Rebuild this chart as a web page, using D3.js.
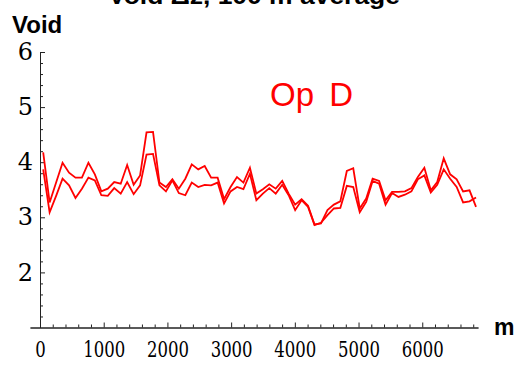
<!DOCTYPE html>
<html>
<head>
<meta charset="utf-8">
<script src="https://cdn.jsdelivr.net/npm/d3@7"></script>
<style>
  body { margin: 0; background: #fff; }
  svg { display: block; }
  .axis text { fill: #000; }
</style>
</head>
<body>
<div id="chart"></div>
<script>
// distance along the line (m), one point per ~100 m window
const distances = [50, 151, 253, 354, 456, 557, 658, 760, 861, 963,
  1064, 1165, 1267, 1368, 1470, 1571, 1672, 1774, 1875, 1977,
  2078, 2179, 2281, 2382, 2484, 2585, 2686, 2788, 2889, 2991,
  3092, 3193, 3295, 3396, 3498, 3599, 3700, 3802, 3903, 4005,
  4106, 4207, 4309, 4410, 4512, 4613, 4714, 4816, 4917, 5019,
  5120, 5221, 5323, 5424, 5526, 5627, 5728, 5830, 5931, 6033,
  6134, 6235, 6337, 6438, 6540, 6641, 6742, 6844];

// first averaged void curve
const voidA = [4.18, 3.27, 3.63, 3.99, 3.81, 3.72, 3.72, 3.99, 3.78, 3.47,
  3.52, 3.64, 3.61, 3.95, 3.59, 3.76, 4.54, 4.55, 3.63, 3.55,
  3.69, 3.52, 3.70, 3.96, 3.87, 3.93, 3.72, 3.72, 3.33, 3.55,
  3.73, 3.63, 3.90, 3.43, 3.51, 3.60, 3.52, 3.66, 3.43, 3.23,
  3.33, 3.21, 2.87, 2.89, 3.13, 3.23, 3.29, 3.84, 3.89, 3.16,
  3.34, 3.70, 3.66, 3.31, 3.46, 3.46, 3.47, 3.53, 3.73, 3.90,
  3.49, 3.64, 4.07, 3.78, 3.69, 3.47, 3.49, 3.19];

// second averaged void curve
const voidB = [3.87, 3.09, 3.39, 3.70, 3.58, 3.35, 3.52, 3.72, 3.67, 3.40,
  3.39, 3.53, 3.43, 3.64, 3.42, 3.58, 4.14, 4.15, 3.58, 3.47,
  3.67, 3.44, 3.40, 3.63, 3.55, 3.59, 3.58, 3.63, 3.25, 3.47,
  3.55, 3.51, 3.79, 3.31, 3.43, 3.53, 3.43, 3.59, 3.40, 3.13,
  3.31, 3.19, 2.86, 2.90, 3.04, 3.16, 3.17, 3.57, 3.55, 3.09,
  3.28, 3.66, 3.61, 3.23, 3.44, 3.37, 3.41, 3.47, 3.69, 3.76,
  3.45, 3.59, 3.87, 3.70, 3.55, 3.27, 3.29, 3.36];

const xTickValues = [0, 1000, 2000, 3000, 4000, 5000, 6000];
const yTickValues = [2, 3, 4, 5, 6];

const width = 528, height = 371;
const serif = '"DejaVu Serif", "Liberation Serif", "Noto Serif", serif';

const svg = d3.select('#chart').append('svg')
  .attr('width', width)
  .attr('height', height);

// scales: axes cross at (0, 1) like the original plot
const x = d3.scaleLinear().domain([-157, 6875]).range([30, 478]);
const y = d3.scaleLinear().domain([1, 6]).range([327.5, 52]);

// title, mostly cut off by the top edge (as in the original)
svg.append('text')
  .attr('x', 108)
  .attr('y', 4)
  .attr('textLength', 292)
  .attr('lengthAdjust', 'spacingAndGlyphs')
  .attr('font-family', 'Liberation Sans')
  .attr('font-weight', 'bold')
  .attr('font-size', 24)
  .text('Void \u0394z, 100 m average');

// x axis
const xMinor = d3.range(200, 6875, 200).filter(v => v % 1000 !== 0);
svg.append('g')
  .attr('transform', `translate(0,${y(1)})`)
  .call(d3.axisBottom(x).tickValues(xMinor).tickFormat('').tickSizeInner(-3).tickSizeOuter(0));

const xAxis = svg.append('g')
  .attr('class', 'x axis')
  .attr('transform', `translate(0,${y(1)})`)
  .call(d3.axisBottom(x).tickValues(xTickValues).tickFormat(d3.format('d'))
    .tickSizeInner(-5).tickSizeOuter(0).tickPadding(14));
xAxis.selectAll('text')
  .attr('font-family', serif)
  .attr('font-size', 22)
  .attr('textLength', d => String(d).length * 10.5)
  .attr('lengthAdjust', 'spacingAndGlyphs');

// y axis
const yMinor = d3.range(1.2, 6, 0.2).filter(v => Math.abs(v - Math.round(v)) > 0.01);
svg.append('g')
  .attr('transform', `translate(${x(0)},0)`)
  .call(d3.axisLeft(y).tickValues(yMinor).tickFormat('').tickSizeInner(-3).tickSizeOuter(0));

const yAxis = svg.append('g')
  .attr('class', 'y axis')
  .attr('transform', `translate(${x(0)},0)`)
  .call(d3.axisLeft(y).tickValues(yTickValues).tickFormat(d3.format('d'))
    .tickSizeInner(-5).tickSizeOuter(0).tickPadding(7));
yAxis.selectAll('text')
  .attr('font-family', serif)
  .attr('font-size', 24);

svg.selectAll('.domain, .tick line').attr('stroke', '#222');

// axis names
svg.append('text')
  .attr('x', 12)
  .attr('y', 33)
  .attr('font-family', 'Liberation Sans')
  .attr('font-weight', 'bold')
  .attr('font-size', 24)
  .text('Void');

svg.append('text')
  .attr('x', 494)
  .attr('y', 335)
  .attr('font-family', 'Liberation Sans')
  .attr('font-weight', 'bold')
  .attr('font-size', 23)
  .text('m');

// the two curves
const line = d3.line()
  .x((d, i) => x(distances[i]))
  .y(d => y(d));

[voidA, voidB].forEach(series => {
  svg.append('path')
    .datum(series)
    .attr('fill', 'none')
    .attr('stroke', '#ff0000')
    .attr('stroke-width', 1.8)
    .attr('d', line);
});

// curve label
svg.append('text')
  .attr('x', 270)
  .attr('y', 106)
  .attr('font-family', 'Liberation Sans')
  .attr('font-size', 33)
  .attr('word-spacing', 6)
  .attr('fill', '#ff0000')
  .text('Op D');
</script>
</body>
</html>
